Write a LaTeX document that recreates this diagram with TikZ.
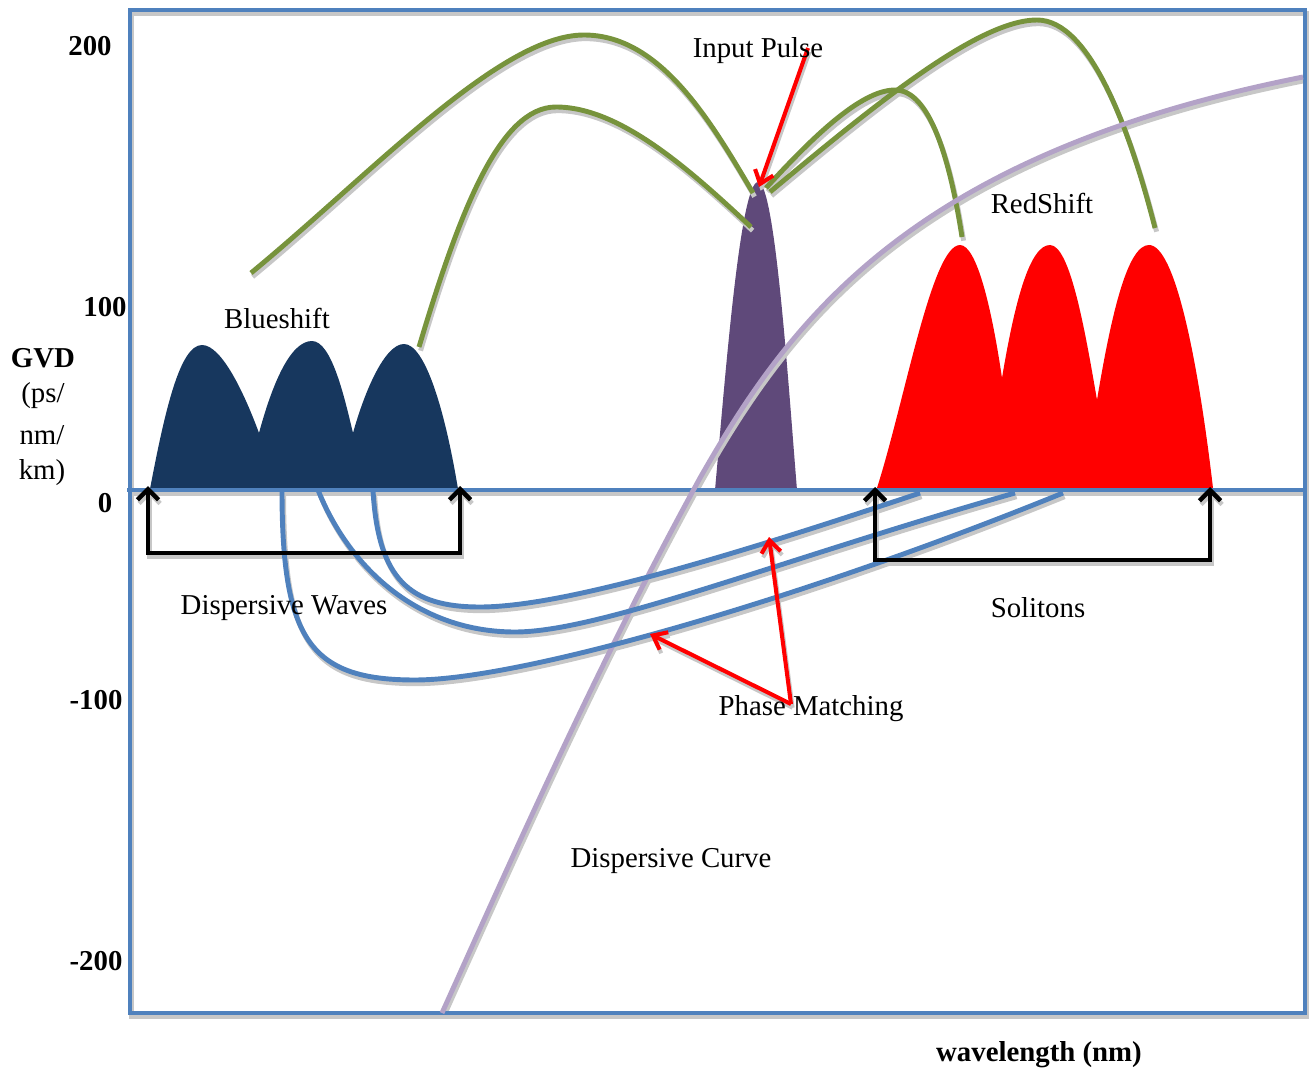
\documentclass[tikz,border=0pt]{standalone}
\usepackage{fontspec}
\setmainfont{Liberation Serif}
\usetikzlibrary{arrows.meta}

\definecolor{frameblue}{HTML}{4F81BD}
\definecolor{arcgreen}{HTML}{77933C}
\definecolor{curvelav}{HTML}{B3A2C7}
\definecolor{navy}{HTML}{17375E}
\definecolor{pulsepurple}{HTML}{5F497A}

% all the lines, drawn once as shadow and once in colour
\newcommand\gvdlines{%
	\draw[frm] (130,10) rectangle (1305,1013);
	\draw[frm] (127,490) -- (1305,490);

	\draw[gr] (bs1) .. controls (370,175) and (500,35) .. (584,35) .. controls (660,35) and (710,120) .. (tl1);
	\draw[gr] (bs3) .. controls (460,210) and (500,107) .. (556,107) .. controls (620,107) and (690,170) .. (tl2);
	\draw[gr] (tr1) .. controls (810,140) and (860,90) .. (895,90) .. controls (930,90) and (950,160) .. (rs1);
	\draw[gr] (tr2) .. controls (880,100) and (980,20) .. (1037,20) .. controls (1090,20) and (1130,130) .. (rs3);

	\draw[dc] (dc0) .. controls (520,840) and (600,660) .. (700,478) .. controls (790,320) and (910,155) .. (dc1);

	\draw[pm] (a0) .. controls (378,580) and (410,607) .. (480,607) .. controls (560,607) and (720,560) .. (a1);
	\draw[pm] (b0) .. controls (350,570) and (420,632) .. (515,632) .. controls (600,632) and (780,560) .. (b1);
	\draw[pm] (c0) .. controls (282,640) and (310,680) .. (415,680) .. controls (520,680) and (800,600) .. (c1);

	\draw[br] (wl) -- ++(0,67) -| (wr);
	\draw[br] (sl) -- ++(0,73) -| (sr);

	\draw[ptr] (ipx) -- (ipk);
	\draw[ptr] (pmv) -- (pmu);
	\draw[ptr] (pmv) -- (pml);
}

\begin{document}
\begin{tikzpicture}[x=0.02cm, y=-0.02cm,
		txt/.style={font=\fontsize{16.4}{19}\selectfont, inner sep=0pt},
		bld/.style={font=\fontsize{16.4}{19}\selectfont\bfseries, inner sep=0pt},
		shd/.style={},
		frm/.style={draw=frameblue, line width=2.8pt, shd},
		gr/.style={draw=arcgreen, line width=2.8pt, shd},
		dc/.style={draw=curvelav, line width=2.8pt, shd},
		pm/.style={draw=frameblue, line width=2.8pt, shd},
		br/.style={draw=black, line width=2.6pt, {Straight Barb[length=6pt,width=12pt]}-{Straight Barb[length=6pt,width=12pt]}, shd},
		ptr/.style={draw=red, line width=2.3pt, -{Straight Barb[length=7pt,width=11pt]}, shd}]
		\useasboundingbox (0,0) rectangle (1313,1068);

		% pulses
		\fill[navy] (150,489) .. controls (165,410) and (180,345) .. (202,345) .. controls (222,345) and (245,395) .. (259,433)
			.. controls (272,385) and (290,341) .. (312,341) .. controls (332,341) and (345,400) .. (353,433)
			.. controls (365,390) and (385,344) .. (404,344) .. controls (425,344) and (445,410) .. (458,489) -- cycle;
		\fill[pulsepurple] (715,490) .. controls (725,380) and (740,182) .. (758,182) .. controls (775,182) and (788,380) .. (797,490) -- cycle;
		\fill[red] (877,488) .. controls (905,400) and (932,245) .. (960,245) .. controls (977,245) and (992,310) .. (1002,378)
			.. controls (1015,300) and (1030,245) .. (1050,245) .. controls (1070,245) and (1085,330) .. (1097,400)
			.. controls (1112,310) and (1128,245) .. (1149,245) .. controls (1175,245) and (1198,360) .. (1213,488) -- cycle;

		% end points
		\coordinate (bs1) at (251,273);
		\coordinate (bs3) at (419,347);
		\coordinate (rs1) at (962,237);
		\coordinate (rs3) at (1155,228);
		\coordinate (tl1) at (753,193);
		\coordinate (tl2) at (751,227);
		\coordinate (tr1) at (766,188);
		\coordinate (tr2) at (770,192);
		\coordinate (dc0) at (442,1013);
		\coordinate (dc1) at (1303,77);
		\coordinate (a0) at (373,490);
		\coordinate (a1) at (920,493);
		\coordinate (b0) at (318,490);
		\coordinate (b1) at (1015,493);
		\coordinate (c0) at (282,490);
		\coordinate (c1) at (1063,493);
		\coordinate (wl) at (148,486);
		\coordinate (wr) at (460,486);
		\coordinate (sl) at (875,487);
		\coordinate (sr) at (1210,487);
		\coordinate (ipx) at (808,48);
		\coordinate (ipk) at (759,187);
		\coordinate (pmv) at (791,704);
		\coordinate (pmu) at (769,537);
		\coordinate (pml) at (650,634);

		\begin{scope}[transform canvas={shift={(0.9pt,-2.1pt)}}, shd/.style={draw=black!22}]
			\gvdlines
		\end{scope}
		\gvdlines

		% labels
		\node[txt] (ip) at (758,51) {Input Pulse};
		\node[txt] (rsh) at (1042,203) {RedShift};
		\node[txt] (bsh) at (277,318) {Blueshift};
		\node[txt] (dw) at (284,608) {Dispersive Waves};
		\node[txt] (sol) at (1038,608) {Solitons};
		\node[txt] (pmt) at (811,709) {Phase Matching};
		\node[txt] (dcv) at (671,861) {Dispersive Curve};

		\node[bld] (y200) at (90,46) {200};
		\node[bld] (y100) at (105,307) {100};
		\node[bld] (y0) at (105,503) {0};
		\node[bld] (ym100) at (96,700) {-100};
		\node[bld] (ym200) at (96,961) {-200};
		\node[bld] (gvd) at (43,358) {GVD};
		\node[txt] (u1) at (43,396) {(ps/};
		\node[txt] (u2) at (42,435) {nm/};
		\node[txt] (u3) at (42,473) {km)};
		\node[bld] (xl) at (1039,1055) {wavelength (nm)};
	\end{tikzpicture}
\end{document}
